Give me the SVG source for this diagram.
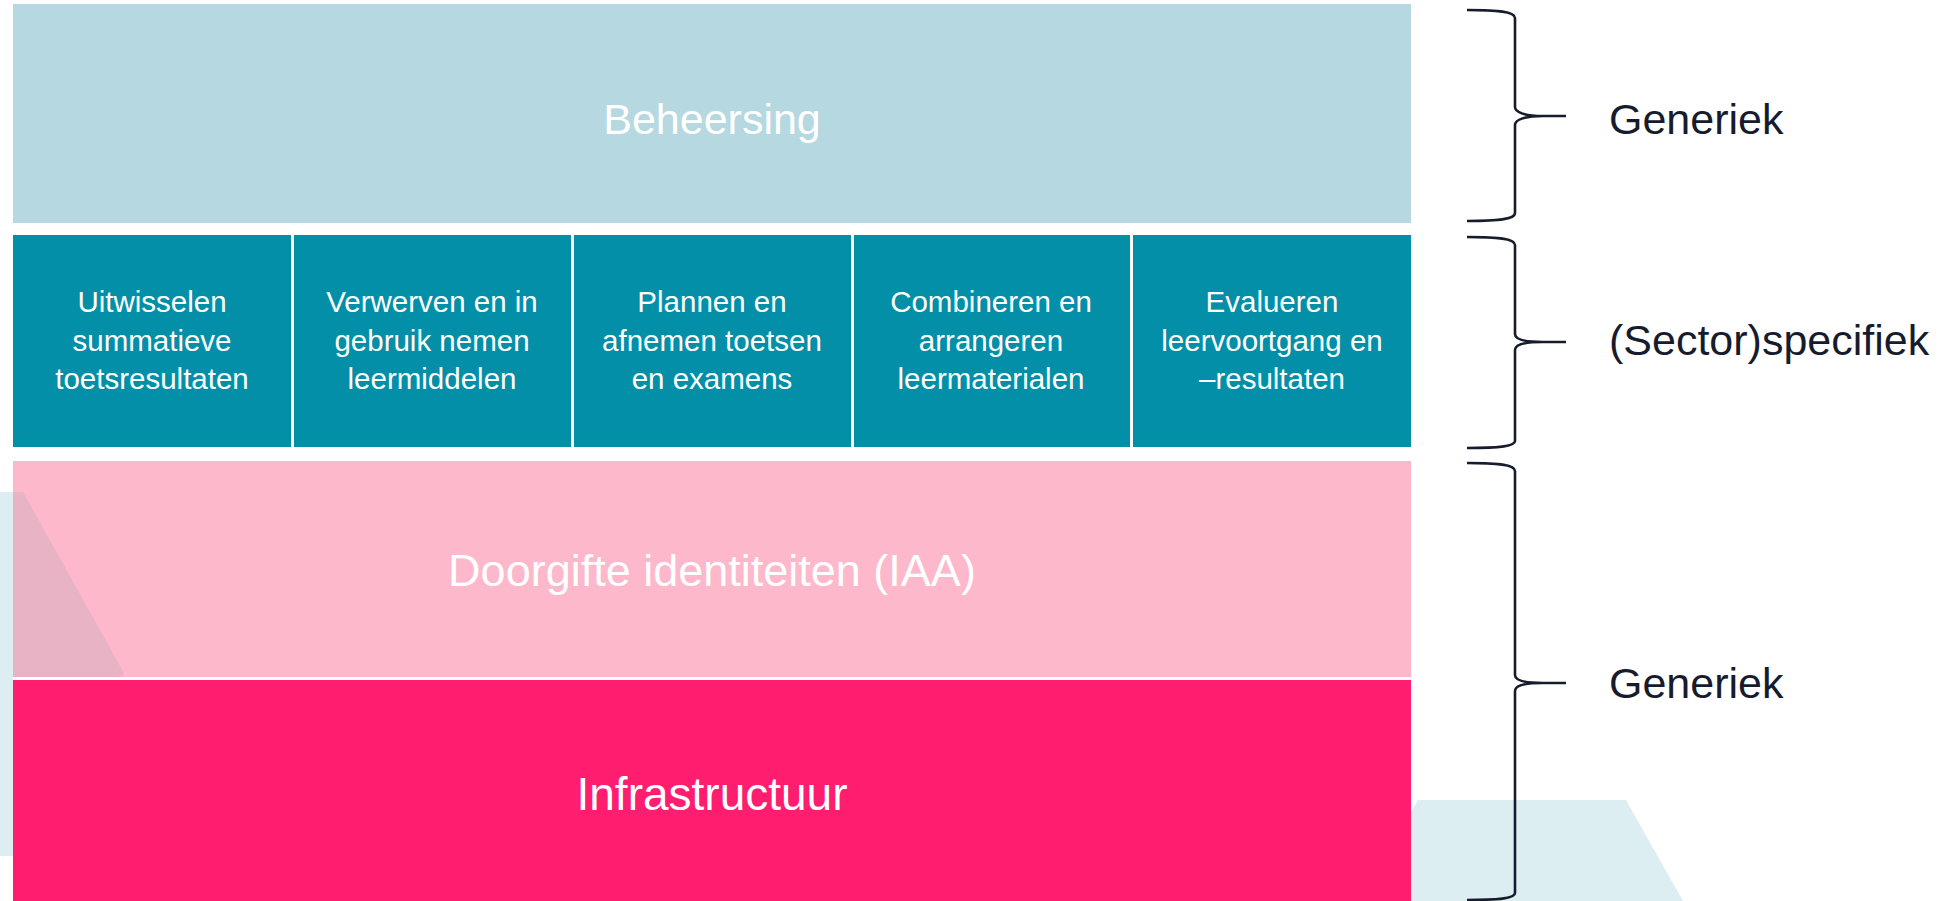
<svg xmlns="http://www.w3.org/2000/svg" width="1944" height="901" viewBox="0 0 1944 901">
<style>
.big{font-family:"Liberation Sans",Arial,sans-serif;font-size:43px;fill:#ffffff;text-anchor:middle}
.sm{font-family:"Liberation Sans",Arial,sans-serif;font-size:29.5px;fill:#ffffff;text-anchor:middle}
.lbl{font-family:"Liberation Sans",Arial,sans-serif;font-size:43px;fill:#161c2d}
.brace{fill:none;stroke:#161c2d;stroke-width:2.6;stroke-linejoin:round}
.teal{fill:#038fa8}
</style>
<rect width="1944" height="901" fill="#ffffff"/>
<g id="background">
<rect x="0" y="492" width="13" height="364" fill="#dceef2"/>
<polygon points="1411,812 1418,800 1626,800 1683,901 1411,901" fill="#dceef2"/>
</g>
<g id="beheersing">
<rect x="13" y="4" width="1398" height="219" fill="#b6d8e0"/>
<text class="big" x="712" y="134">Beheersing</text>
</g>
<g id="col1">
<rect class="teal" x="13" y="235" width="278" height="212"/>
<text class="sm" x="152" y="312">Uitwisselen</text>
<text class="sm" x="152" y="351">summatieve</text>
<text class="sm" x="152" y="389">toetsresultaten</text>
</g>
<g id="col2">
<rect class="teal" x="294" y="235" width="277" height="212"/>
<text class="sm" x="432" y="312">Verwerven en in</text>
<text class="sm" x="432" y="351">gebruik nemen</text>
<text class="sm" x="432" y="389">leermiddelen</text>
</g>
<g id="col3">
<rect class="teal" x="574" y="235" width="277" height="212"/>
<text class="sm" x="712" y="312">Plannen en</text>
<text class="sm" x="712" y="351">afnemen toetsen</text>
<text class="sm" x="712" y="389">en examens</text>
</g>
<g id="col4">
<rect class="teal" x="854" y="235" width="276" height="212"/>
<text class="sm" x="991" y="312">Combineren en</text>
<text class="sm" x="991" y="351">arrangeren</text>
<text class="sm" x="991" y="389">leermaterialen</text>
</g>
<g id="col5">
<rect class="teal" x="1133" y="235" width="278" height="212"/>
<text class="sm" x="1272" y="312">Evalueren</text>
<text class="sm" x="1272" y="351">leervoortgang en</text>
<text class="sm" x="1272" y="389">–resultaten</text>
</g>
<g id="doorgifte">
<rect x="13" y="461" width="1398" height="216" fill="#fdb8cb"/>
<polygon points="13,492 23,492 124,673 122,677 13,677" fill="#e9b3c6"/>
<text class="big" x="712" y="586" style="font-size:45px">Doorgifte identiteiten (IAA)</text>
</g>
<g id="infrastructuur">
<rect x="13" y="680" width="1398" height="221" fill="#ff1d6f"/>
<text class="big" x="712" y="810" style="font-size:46px">Infrastructuur</text>
</g>
<g id="connectors">
<path class="brace" d="M1467,10 C1501,10 1515,12 1515,18 L1515,107 C1515,112 1524,116 1543,116 L1566,116 M1543,116 C1524,116 1515,120 1515,125 L1515,213 C1515,219 1501,221 1467,221"/>
<path class="brace" d="M1467,237 C1501,237 1515,239 1515,245 L1515,334 C1515,339 1524,342 1543,342 L1566,342 M1543,342 C1524,342 1515,345 1515,350 L1515,441 C1515,446 1501,448 1467,448"/>
<path class="brace" d="M1467,463 C1501,463 1515,465 1515,471 L1515,675 C1515,680 1524,683 1543,683 L1566,683 M1543,683 C1524,683 1515,686 1515,691 L1515,893 C1515,898 1501,900 1467,900"/>
</g>
<g id="labels">
<text class="lbl" x="1609" y="134">Generiek</text>
<text class="lbl" x="1609" y="355">(Sector)specifiek</text>
<text class="lbl" x="1609" y="698">Generiek</text>
</g>
</svg>
